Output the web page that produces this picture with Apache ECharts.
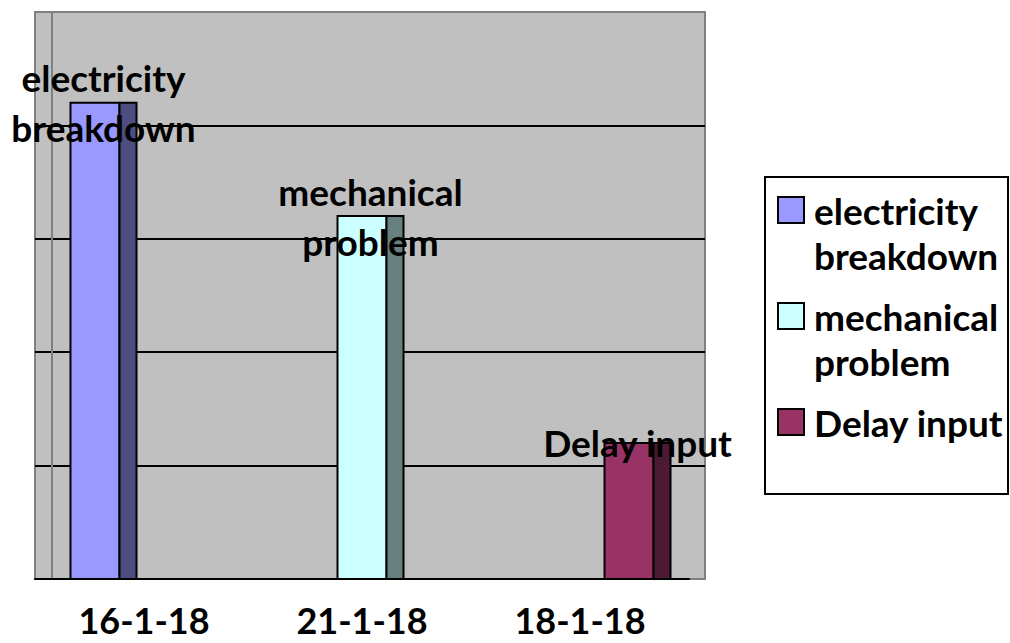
<!DOCTYPE html>
<html><head><meta charset="utf-8">
<script src="https://cdn.jsdelivr.net/npm/echarts@6/dist/echarts.min.js"></script>
<style>html,body{margin:0;padding:0;background:#fff}#c{width:1010px;height:643px}</style>
</head><body><div id="c"></div>
<script>
const categories = ['16-1-18', '21-1-18', '18-1-18'];
const seriesNames = ['electricity\nbreakdown', 'mechanical\nproblem', 'Delay input'];
const electricity = [4.2, null, null];
const mechanical = [null, 3.2, null];
const delayInput = [null, null, 1.2];
const yMin = 0, yMax = 5, yStep = 1;

const frontColors = ['#9999FF', '#CCFFFF', '#993366'];
const sideColors = ['#4D4D80', '#668080', '#4D1A33'];
const FONT = 'Lato, "Open Sans", sans-serif';

function toData(arr) { return arr.map((v, i) => v == null ? null : [i, v]).filter(d => d); }

function makeRender(si) {
  return function (params, api) {
    const cat = api.value(0), val = api.value(1);
    const base = api.coord([cat, 0]);
    const top = api.coord([cat, val]);
    const band = api.size([1, 0])[0];
    const barW = band * 0.2248, depth = band * 0.078;
    const x0 = base[0] + (si - 1) * barW - barW / 2;
    const h = base[1] - top[1];
    return {
      type: 'group', children: [
        { type: 'rect', shape: { x: x0, y: top[1], width: barW, height: h }, style: { fill: frontColors[si], stroke: '#000', lineWidth: 2 } },
        { type: 'rect', shape: { x: x0 + barW, y: top[1], width: depth, height: h }, style: { fill: sideColors[si], stroke: '#000', lineWidth: 2 } },
        { type: 'text', x: x0 + (barW + depth) / 2, y: top[1], z2: 10,
          style: { text: seriesNames[si], fontSize: 37, fontWeight: 'bold', fontFamily: FONT, fill: '#000', align: 'center', verticalAlign: 'middle', lineHeight: 50 } }
      ]
    };
  };
}

const seriesArrays = [electricity, mechanical, delayInput];
const chart = echarts.init(document.getElementById('c'), null, { renderer: 'svg' });
chart.setOption({
  animation: false,
  backgroundColor: '#fff',
  grid: [
    { left: 35, top: 12, width: 670, height: 567, show: true, backgroundColor: '#C0C0C0', borderColor: '#808080', borderWidth: 2 },
    { left: 35, top: 12, width: 654, height: 567 }
  ],
  xAxis: [
    { gridIndex: 0, type: 'value', min: 0, max: 1, show: false },
    { gridIndex: 1, type: 'category', data: categories,
      axisLine: { lineStyle: { color: '#000', width: 2 } },
      axisTick: { length: 9, lineStyle: { color: '#000', width: 2 } },
      axisLabel: { fontSize: 36, lineHeight: 36, fontWeight: 'bold', fontFamily: FONT, color: '#000', margin: 23 },
      splitLine: { show: false } }
  ],
  yAxis: [
    { gridIndex: 0, type: 'value', min: yMin, max: yMax, interval: yStep, offset: -17,
      axisLine: { show: true, lineStyle: { color: '#808080', width: 2 } },
      axisTick: { show: false }, axisLabel: { show: false },
      splitLine: { show: true, showMinLine: false, showMaxLine: false, lineStyle: { color: '#000', width: 2 } } },
    { gridIndex: 1, type: 'value', min: yMin, max: yMax, interval: yStep, show: false, splitLine: { show: false } }
  ],
  legend: {
    left: 777, top: 142.5, padding: 0, orient: 'vertical', icon: 'rect', itemWidth: 26, itemHeight: 26, itemGap: -29,
    selectedMode: false,
    itemStyle: { borderColor: '#000', borderWidth: 2 },
    textStyle: { fontSize: 37, fontWeight: 'bold', fontFamily: FONT, color: '#000', lineHeight: 45, padding: [0, 0, 0, 5] },
    formatter: function (name) { return name.indexOf('\n') >= 0 ? '\n' + name : '\n' + name + '\n'; },
    data: seriesNames
  },
  graphic: [
    { type: 'rect', shape: { x: 765, y: 177, width: 243, height: 317 }, style: { fill: 'none', stroke: '#000', lineWidth: 2 }, z: 0 }
  ],
  series: seriesArrays.map((arr, si) => ({
    type: 'custom', name: seriesNames[si], xAxisIndex: 1, yAxisIndex: 1,
    itemStyle: { color: frontColors[si] },
    encode: { x: 0, y: 1 }, clip: false,
    data: toData(arr),
    renderItem: makeRender(si)
  }))
});
</script>
</body></html>
